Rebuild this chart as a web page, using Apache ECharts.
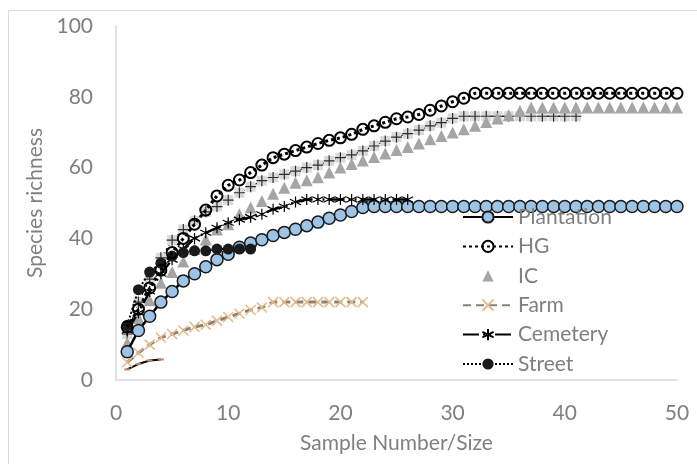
<!DOCTYPE html>
<html>
<head>
<meta charset="utf-8">
<script src="https://cdn.jsdelivr.net/npm/echarts@6/dist/echarts.min.js"></script>
<style>
  html, body { margin: 0; padding: 0; background: #fff; }
  #main { width: 697px; height: 464px; }
</style>
</head>
<body>
<div id="main"></div>
<script>
// species richness per sample number (x = 1, 2, 3 ...)
const plantation = [8, 14, 18, 22, 25, 28, 30, 32, 34, 35.5, 37.5, 38.7, 39.6, 40.8, 41.7, 42.6, 43.6, 44.6, 45.7, 46.6,
  47.6, 48.7, 49, 49, 49, 49, 49, 49, 49, 49, 49, 49, 49, 49, 49, 49, 49, 49, 49, 49,
  49, 49, 49, 49, 49, 49, 49, 49, 49, 49]
const hg = [15, 20, 26, 31, 36, 40, 44, 48, 52, 55, 56.5, 58.6, 60.7, 62.8, 63.8, 64.8, 65.8, 66.8, 67.7, 68.4,
  69.4, 70.8, 71.8, 72.8, 73.8, 74.3, 75, 76.2, 77.4, 78.6, 79.6, 81, 81, 81, 81, 81, 81, 81, 81, 81,
  81, 81, 81, 81, 81, 81, 81, 81, 81, 81]
const ic = [10.5, 17.5, 22.5, 27.5, 30.5, 33.5, 37, 39.7, 42.5, 44, 46.8, 48.7, 50.6, 52.6, 54.3, 55.7, 56.4, 57.3, 58.6, 60,
  61, 62, 63, 64, 65, 65.8, 66.8, 68, 68.9, 69.9, 70.8, 71.8, 72.9, 73.9, 74.8, 76, 77, 77, 77, 77,
  77, 77, 77, 77, 77, 77, 77, 77, 77, 77]
const farm = [5, 7.7, 10, 12, 13, 14, 15, 15.6, 16.7, 17.8, 18.8, 19.8, 20.5, 22, 22, 22, 22, 22, 22, 22, 22, 22]
const cemetery = [14, 19, 25, 30, 34, 37, 40, 41.6, 43, 44.4, 45.3, 46, 46.8, 48.2, 49, 50.3, 51, 51, 51, 51,
  51, 51, 51, 51, 51, 51]
const street = [15.5, 25.5, 30.5, 33, 35, 36, 36.5, 36.5, 37, 37, 37, 37]
// two curves drawn in the plot but not listed in the legend
const plusCurve = [13, 22, 28.5, 34.5, 39.5, 42.5, 45, 47.5, 49, 50.8, 52.9, 54.6, 56.3, 57.2, 58.1, 59, 60, 60.7, 61.9, 62.8,
  63.6, 64.7, 66.1, 67.5, 68.6, 69.6, 70.6, 71.8, 72.7, 73.9, 74.5, 74.5, 74.5, 74.5, 74.5, 74.5, 74.5, 74.5, 74.5, 74.5,
  74.5]
const smallCurve = [3, 4.5, 5.5, 5.8]

const legendNames = ['Plantation', 'HG', 'IC', 'Farm', 'Cemetery', 'Street']
const yTicks = [0, 20, 40, 60, 80, 100]
const xTicks = [0, 10, 20, 30, 40, 50]

const toPairs = (arr) => arr.map((v, i) => [i + 1, v])

const grey = '#7f7f7f'
const font = 'Lato'

var myChart = echarts.init(document.getElementById('main'))

let option = {
  animation: false,
  backgroundColor: '#fff',
  graphic: [
    {
      type: 'rect',
      left: 6,
      top: 8,
      silent: true,
      shape: { width: 700, height: 470 },
      style: { fill: 'none', stroke: '#d9d9d9', lineWidth: 1 },
    },
  ],
  grid: { left: 116, right: 20, top: 26, bottom: 84 },
  legend: {
    orient: 'vertical',
    left: 457,
    top: 201,
    itemWidth: 50,
    itemHeight: 14,
    itemGap: 7.4,
    data: legendNames,
    textStyle: { fontFamily: font, fontSize: 21, color: grey, lineHeight: 22 },
  },
  xAxis: {
    type: 'value',
    min: xTicks[0],
    max: xTicks[xTicks.length - 1],
    interval: 10,
    name: 'Sample Number/Size',
    nameLocation: 'middle',
    nameGap: 53,
    nameTextStyle: { fontFamily: font, fontSize: 21, color: grey },
    axisLine: { show: true, lineStyle: { color: '#d9d9d9', width: 1.5 } },
    axisTick: { show: false },
    splitLine: { show: false },
    axisLabel: { fontFamily: font, fontSize: 21, color: grey, margin: 23 },
  },
  yAxis: {
    type: 'value',
    min: yTicks[0],
    max: yTicks[yTicks.length - 1],
    interval: 20,
    name: 'Species richness',
    nameLocation: 'middle',
    nameGap: 70,
    nameTextStyle: { fontFamily: font, fontSize: 21, color: grey },
    axisLine: { show: true, lineStyle: { color: '#d9d9d9', width: 1.5 } },
    axisTick: { show: false },
    splitLine: { show: false },
    axisLabel: { fontFamily: font, fontSize: 21, color: grey, margin: 23 },
  },
  series: [
    {
      name: 'Plus',
      type: 'line',
      data: toPairs(plusCurve),
      symbol: 'rect',
      symbolSize: 10,
      itemStyle: { color: '#d9d9d9' },
      lineStyle: { color: '#000', width: 1.3, type: [6, 3, 2, 3] },
      z: 2,
    },
    {
      name: 'Plus marks',
      type: 'scatter',
      data: toPairs(plusCurve),
      symbol: 'path://M5,0L5,10M0,5L10,5',
      symbolSize: 11,
      itemStyle: { color: 'none', borderColor: '#000', borderWidth: 1.2 },
      z: 2,
    },
    {
      name: 'Plantation',
      type: 'line',
      data: toPairs(plantation),
      symbol: 'circle',
      symbolSize: 12,
      itemStyle: { color: '#9dc3e6', borderColor: '#1a1a1a', borderWidth: 1.5 },
      lineStyle: { color: '#000', width: 2.5 },
      z: 3,
    },
    {
      name: 'HG',
      type: 'line',
      data: toPairs(hg),
      symbol: 'circle',
      symbolSize: 11,
      itemStyle: { color: 'rgba(255,255,255,0)', borderColor: '#000', borderWidth: 2 },
      lineStyle: { color: '#000', width: 3, type: [3, 3] },
      z: 4,
    },
    {
      name: 'IC',
      type: 'line',
      data: toPairs(ic),
      symbol: 'triangle',
      symbolSize: 12,
      itemStyle: { color: '#a5a5a5' },
      lineStyle: { width: 0, opacity: 0 },
      z: 2,
    },
    {
      name: 'Farm',
      type: 'line',
      data: toPairs(farm),
      symbol: 'path://M0,0L10,10M10,0L0,10',
      symbolSize: 10,
      itemStyle: { color: 'none', borderColor: '#e5b98a', borderWidth: 1.5 },
      lineStyle: { color: '#8c7f76', width: 3, type: [8, 5] },
      z: 2,
    },
    {
      name: 'Cemetery',
      type: 'line',
      data: toPairs(cemetery),
      symbol: 'path://M5,0L5,10M0.7,2.5L9.3,7.5M0.7,7.5L9.3,2.5',
      symbolSize: 11,
      itemStyle: { color: 'none', borderColor: '#000', borderWidth: 1.2 },
      lineStyle: { color: '#000', width: 2.5, type: [16, 4, 2, 4, 2, 4] },
      z: 3,
    },
    {
      name: 'Street',
      type: 'line',
      data: toPairs(street),
      symbol: 'circle',
      symbolSize: 11,
      itemStyle: { color: '#1a1a1a' },
      lineStyle: { color: '#000', width: 2, type: [2, 2] },
      z: 3,
    },
    {
      name: 'Small',
      type: 'line',
      data: toPairs(smallCurve),
      symbol: 'rect',
      symbolSize: [6, 2],
      itemStyle: { color: '#c8826a' },
      lineStyle: { color: '#000', width: 2 },
      z: 2,
    },
  ],
}

myChart.setOption(option)
</script>
</body>
</html>
